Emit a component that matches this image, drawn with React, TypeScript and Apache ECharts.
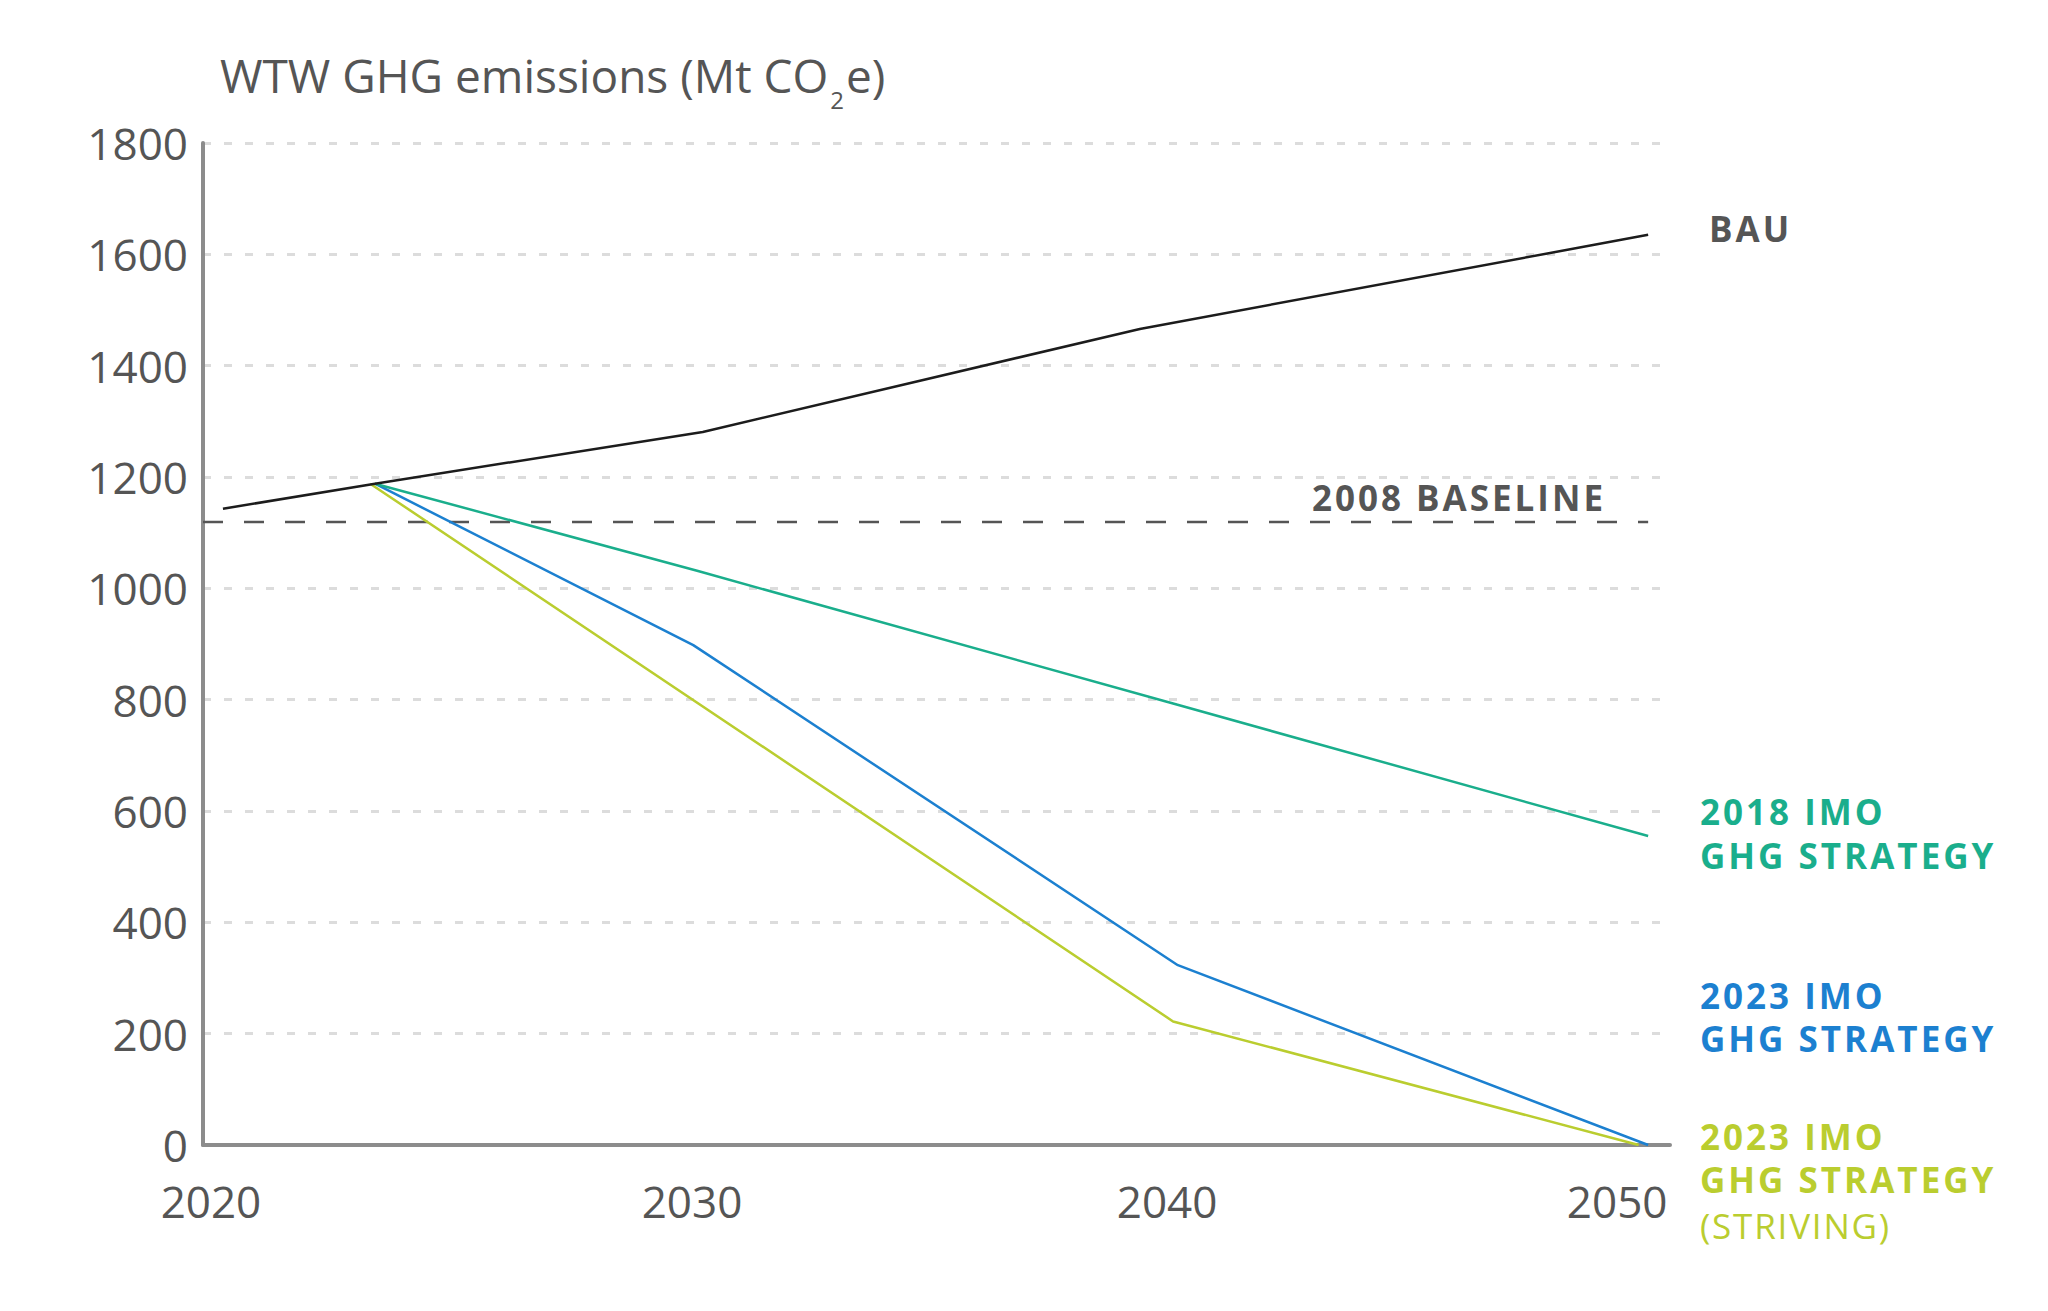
import React, { useEffect, useRef } from 'react';
import * as echarts from 'echarts';

const FONT = "'Open Sans', 'Noto Sans', sans-serif";

const X_MIN = 2019.58;
const X_MAX = 2050.46;
const X_TICKS = [2020, 2030, 2040, 2050];
const Y_MAX = 1800;
const Y_STEP = 200;

const BAU_YEARS = [2020, 2023.2, 2030.1, 2039.3, 2050];
const BAU_VALUES = [1143, 1188, 1281, 1466, 1635];

const IMO2018_YEARS = [2023.2, 2030, 2040, 2050];
const IMO2018_VALUES = [1188, 1031, 793, 555];

const IMO2023_YEARS = [2023.2, 2029.9, 2040.1, 2050];
const IMO2023_VALUES = [1188, 898, 323, 0];

const STRIVING_YEARS = [2023.1, 2040, 2049.8];
const STRIVING_VALUES = [1188, 222, 0];

const BASELINE_YEARS = [X_MIN, 2050];
const BASELINE_VALUE = 1119;

const TITLE_MAIN = 'WTW GHG emissions (Mt CO';
const TITLE_SUB = '2';
const TITLE_END = 'e)';

const LABEL_BAU = 'BAU';
const LABEL_BASELINE = '2008 BASELINE';
const LABEL_2018 = ['2018 IMO', 'GHG STRATEGY'];
const LABEL_2023 = ['2023 IMO', 'GHG STRATEGY'];
const LABEL_STRIVING = ['2023 IMO', 'GHG STRATEGY', '(STRIVING)'];

const C_BAU = '#1c1c1c';
const C_2018 = '#1aae8c';
const C_2023 = '#1c80d0';
const C_STRIVING = '#bacd2f';
const C_TEXT = '#555555';
const C_AXIS = '#8c8c8c';

const zip = (xs: number[], ys: number[]) => xs.map((x, i) => [x, ys[i]]);

// label shift (px) relative to tick position, realised via right padding
const X_LABEL_SHIFT: Record<number, string> = { 2020: 's12', 2030: 's6', 2040: 's6', 2050: 's31' };

const SPACED_BOLD = new Set([LABEL_BAU, LABEL_BASELINE, ...LABEL_2018, ...LABEL_2023, ...LABEL_STRIVING]);

function measure(text: string, font: string): number {
  const c = document.createElement('canvas');
  const ctx = c.getContext('2d');
  if (!ctx) return text.length * 20;
  ctx.font = font;
  return ctx.measureText(text).width;
}

export default function App() {
  const ref = useRef<HTMLDivElement>(null);

  useEffect(() => {
    if (!ref.current) return;
    const chart = echarts.init(ref.current, undefined, { renderer: 'svg' });
    const xLabelBase = { fontSize: 44, lineHeight: 40, fontFamily: FONT, color: C_TEXT };

    const titleX = 220;
    const wMain = measure(TITLE_MAIN, "46px 'Open Sans'");
    const wSub = measure(TITLE_SUB, "24px 'Open Sans'");
    const subX = titleX + wMain + 2;
    const endX = subX + wSub + 2;

    const lineLabel = (text: string, x: number, y: number, color: string, bold = true, align = 'left') => ({
      type: 'text',
      x,
      y,
      style: {
        text,
        fontSize: 35,
        lineHeight: 36,
        fontWeight: bold ? 'bold' : 'normal',
        fontFamily: FONT,
        fill: color,
        align,
        verticalAlign: 'middle',
      },
    });

    chart.setOption({
      animation: false,
      backgroundColor: '#ffffff',
      grid: { left: 203, top: 143, width: 1467, height: 1002, containLabel: false },
      xAxis: {
        type: 'value',
        min: X_MIN,
        max: X_MAX,
        axisLine: { show: true, onZero: false, lineStyle: { color: C_AXIS, width: 4 } },
        axisTick: { show: false },
        splitLine: { show: false },
        axisLabel: {
          customValues: X_TICKS,
          margin: 36,
          formatter: (v: number) => `{${X_LABEL_SHIFT[v] || 's0'}|${v}}`,
          rich: {
            s0: { ...xLabelBase },
            s6: { ...xLabelBase, padding: [0, 12, 0, 0] },
            s12: { ...xLabelBase, padding: [0, 24, 0, 0] },
            s31: { ...xLabelBase, padding: [0, 62, 0, 0] },
          },
        },
      },
      yAxis: {
        type: 'value',
        min: 0,
        max: Y_MAX,
        interval: Y_STEP,
        axisLine: { show: true, lineStyle: { color: C_AXIS, width: 4 } },
        axisTick: { show: false },
        axisLabel: {
          margin: 15,
          fontSize: 44,
          lineHeight: 40,
          fontFamily: FONT,
          color: C_TEXT,
          formatter: (v: number) => String(v),
        },
        splitLine: {
          show: true,
          lineStyle: { color: '#dcdcdc', width: 3, type: [8, 13] },
        },
      },
      series: [
        {
          name: '2008 baseline',
          type: 'line',
          data: zip(BASELINE_YEARS, BASELINE_YEARS.map(() => BASELINE_VALUE)),
          symbol: 'none',
          lineStyle: { color: C_TEXT, width: 2.5, type: [20, 21] },
          z: 2,
        },
        {
          name: '2023 striving',
          type: 'line',
          data: zip(STRIVING_YEARS, STRIVING_VALUES),
          symbol: 'none',
          lineStyle: { color: C_STRIVING, width: 2.5 },
          z: 3,
        },
        {
          name: '2023 IMO',
          type: 'line',
          data: zip(IMO2023_YEARS, IMO2023_VALUES),
          symbol: 'none',
          lineStyle: { color: C_2023, width: 2.5 },
          z: 4,
        },
        {
          name: '2018 IMO',
          type: 'line',
          data: zip(IMO2018_YEARS, IMO2018_VALUES),
          symbol: 'none',
          lineStyle: { color: C_2018, width: 2.5 },
          z: 5,
        },
        {
          name: 'BAU',
          type: 'line',
          data: zip(BAU_YEARS, BAU_VALUES),
          symbol: 'none',
          lineStyle: { color: C_BAU, width: 2.5 },
          z: 6,
        },
      ],
      graphic: [
        {
          type: 'text',
          x: titleX,
          y: 75,
          style: { text: TITLE_MAIN, fontSize: 46, fontFamily: FONT, fill: C_TEXT, align: 'left', verticalAlign: 'middle' },
        },
        {
          type: 'text',
          x: subX,
          y: 99,
          style: { text: TITLE_SUB, fontSize: 24, fontFamily: FONT, fill: C_TEXT, align: 'left', verticalAlign: 'middle' },
        },
        {
          type: 'text',
          x: endX,
          y: 75,
          style: { text: TITLE_END, fontSize: 46, fontFamily: FONT, fill: C_TEXT, align: 'left', verticalAlign: 'middle' },
        },
        lineLabel(LABEL_BAU, 1709, 228, C_TEXT),
        lineLabel(LABEL_BASELINE, 1606, 497, C_TEXT, true, 'right'),
        lineLabel(LABEL_2018[0], 1700, 811, C_2018),
        lineLabel(LABEL_2018[1], 1700, 855, C_2018),
        lineLabel(LABEL_2023[0], 1700, 995, C_2023),
        lineLabel(LABEL_2023[1], 1700, 1038, C_2023),
        lineLabel(LABEL_STRIVING[0], 1700, 1136, C_STRIVING),
        lineLabel(LABEL_STRIVING[1], 1700, 1179, C_STRIVING),
        lineLabel(LABEL_STRIVING[2], 1700, 1225, C_STRIVING, false),
      ],
    });

    const applySpacing = () => {
      const root = ref.current;
      if (!root) return;
      root.querySelectorAll('text').forEach((t) => {
        const s = (t.textContent || '').trim();
        if (SPACED_BOLD.has(s)) {
          t.setAttribute('letter-spacing', s === '(STRIVING)' ? '1.8' : '3');
        }
      });
    };
    chart.on('finished', applySpacing);
    applySpacing();
    const timer = window.setTimeout(applySpacing, 50);

    return () => {
      window.clearTimeout(timer);
      chart.dispose();
    };
  }, []);

  return (
    <div
      ref={ref}
      style={{ position: 'absolute', left: 0, top: 0, width: 2048, height: 1311, background: '#fff' }}
    />
  );
}
